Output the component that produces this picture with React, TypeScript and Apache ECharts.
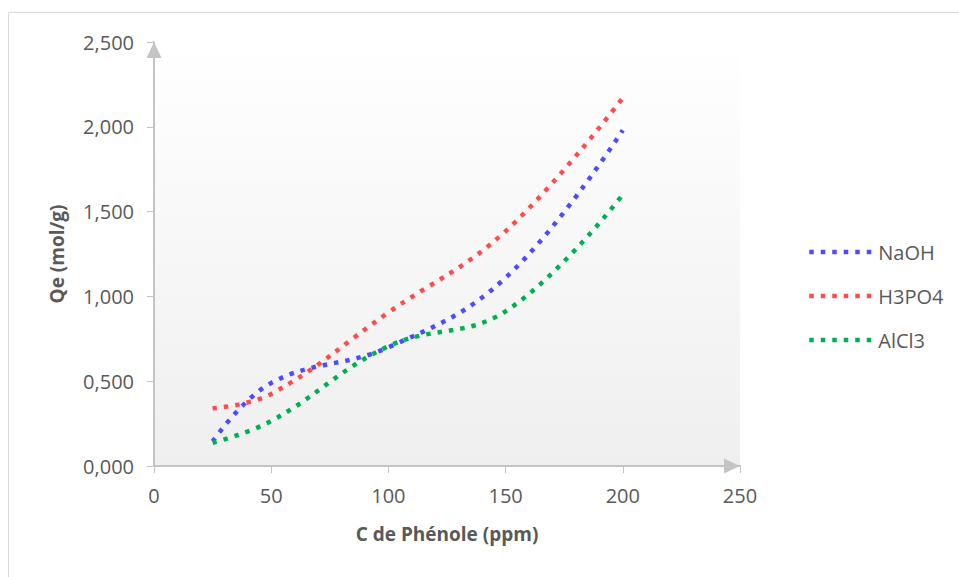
import React, { useEffect, useRef } from "react";
import * as echarts from "echarts";

// Phenol concentration (ppm)
const concentrations = [25, 50, 100, 150, 200];

// Adsorbed quantity Qe (mol/g) per activating agent
const naohValues = [0.145, 0.49, 0.7, 1.11, 1.98];
const h3po4Values = [0.34, 0.425, 0.905, 1.385, 2.17];
const alcl3Values = [0.137, 0.265, 0.706, 0.912, 1.6];

const seriesNames = ["NaOH", "H3PO4", "AlCl3"];
const seriesColors = ["#4B4BFF", "#FF4B4B", "#00B050"];

const FONT = "'Open Sans', 'Noto Sans', sans-serif";
const AXIS_GRAY = "#C4C4C4";
const TEXT_GRAY = "#595959";
const DOTS = [4.5, 7];

export default function App() {
  const ref = useRef<HTMLDivElement>(null);

  useEffect(() => {
    if (!ref.current) return;
    const chart = echarts.init(ref.current, undefined, { renderer: "svg" });

    const makePairs = (vals: number[]) => concentrations.map((c, i) => [c, vals[i]]);
    const allValues = [naohValues, h3po4Values, alcl3Values];

    // Solid arrowheads whose tips sit on the axis ends
    const axisArrow = {
      show: true,
      symbol: ["none", "triangle"],
      symbolSize: [15, 16],
      symbolOffset: [0, -8],
      lineStyle: { color: AXIS_GRAY, width: 2 },
    };

    chart.setOption({
      animation: false,
      backgroundColor: "#FFFFFF",
      textStyle: { fontFamily: FONT },
      graphic: [
        {
          type: "rect",
          shape: { x: 8.5, y: 12.5, width: 1200, height: 1000 },
          style: { fill: "none", stroke: "#D9D9D9", lineWidth: 1 },
          silent: true,
          z: -10,
        },
      ],
      grid: {
        left: 154,
        right: 219,
        top: 42,
        bottom: 111,
        show: true,
        borderWidth: 0,
        backgroundColor: new echarts.graphic.LinearGradient(0, 0, 0, 1, [
          { offset: 0, color: "#FFFFFF" },
          { offset: 1, color: "#EFEFEF" },
        ]),
      },
      legend: {
        orient: "vertical",
        left: 802,
        top: 237,
        itemWidth: 62,
        itemHeight: 20,
        itemGap: 24,
        data: seriesNames,
        lineStyle: { width: 4.5, type: DOTS, cap: "butt" },
        itemStyle: { opacity: 0 },
        textStyle: {
          fontFamily: FONT,
          fontSize: 20,
          color: TEXT_GRAY,
          padding: [0, 0, 0, 2],
        },
      },
      xAxis: {
        type: "value",
        min: 0,
        max: 250,
        interval: 50,
        name: "C de Phénole (ppm)",
        nameLocation: "middle",
        nameGap: 58,
        nameTextStyle: { fontFamily: FONT, fontSize: 19, fontWeight: "bold", color: TEXT_GRAY },
        splitLine: { show: false },
        axisLine: axisArrow,
        axisTick: { show: true, length: 7, lineStyle: { color: AXIS_GRAY, width: 1 } },
        axisLabel: { fontFamily: FONT, fontSize: 20, color: TEXT_GRAY, margin: 19 },
      },
      yAxis: {
        type: "value",
        min: 0,
        max: 2.5,
        interval: 0.5,
        name: "Qe (mol/g)",
        nameLocation: "middle",
        nameGap: 88,
        nameRotate: 90,
        nameTextStyle: { fontFamily: FONT, fontSize: 19, fontWeight: "bold", color: TEXT_GRAY },
        splitLine: { show: false },
        axisLine: axisArrow,
        axisTick: { show: true, length: 7, lineStyle: { color: AXIS_GRAY, width: 1 } },
        axisLabel: {
          fontFamily: FONT,
          fontSize: 20,
          color: TEXT_GRAY,
          margin: 20,
          formatter: (v: number) => v.toFixed(3).replace(".", ","),
        },
      },
      series: seriesNames.map((name, i) => ({
        name,
        type: "line",
        data: makePairs(allValues[i]),
        smooth: 0.4,
        symbol: "none",
        showSymbol: false,
        color: seriesColors[i],
        lineStyle: {
          color: seriesColors[i],
          width: 4.5,
          type: DOTS,
          cap: "butt",
        },
      })),
    });

    return () => chart.dispose();
  }, []);

  return (
    <div
      ref={ref}
      style={{ position: "fixed", left: 0, top: 0, width: 959, height: 577 }}
    />
  );
}
